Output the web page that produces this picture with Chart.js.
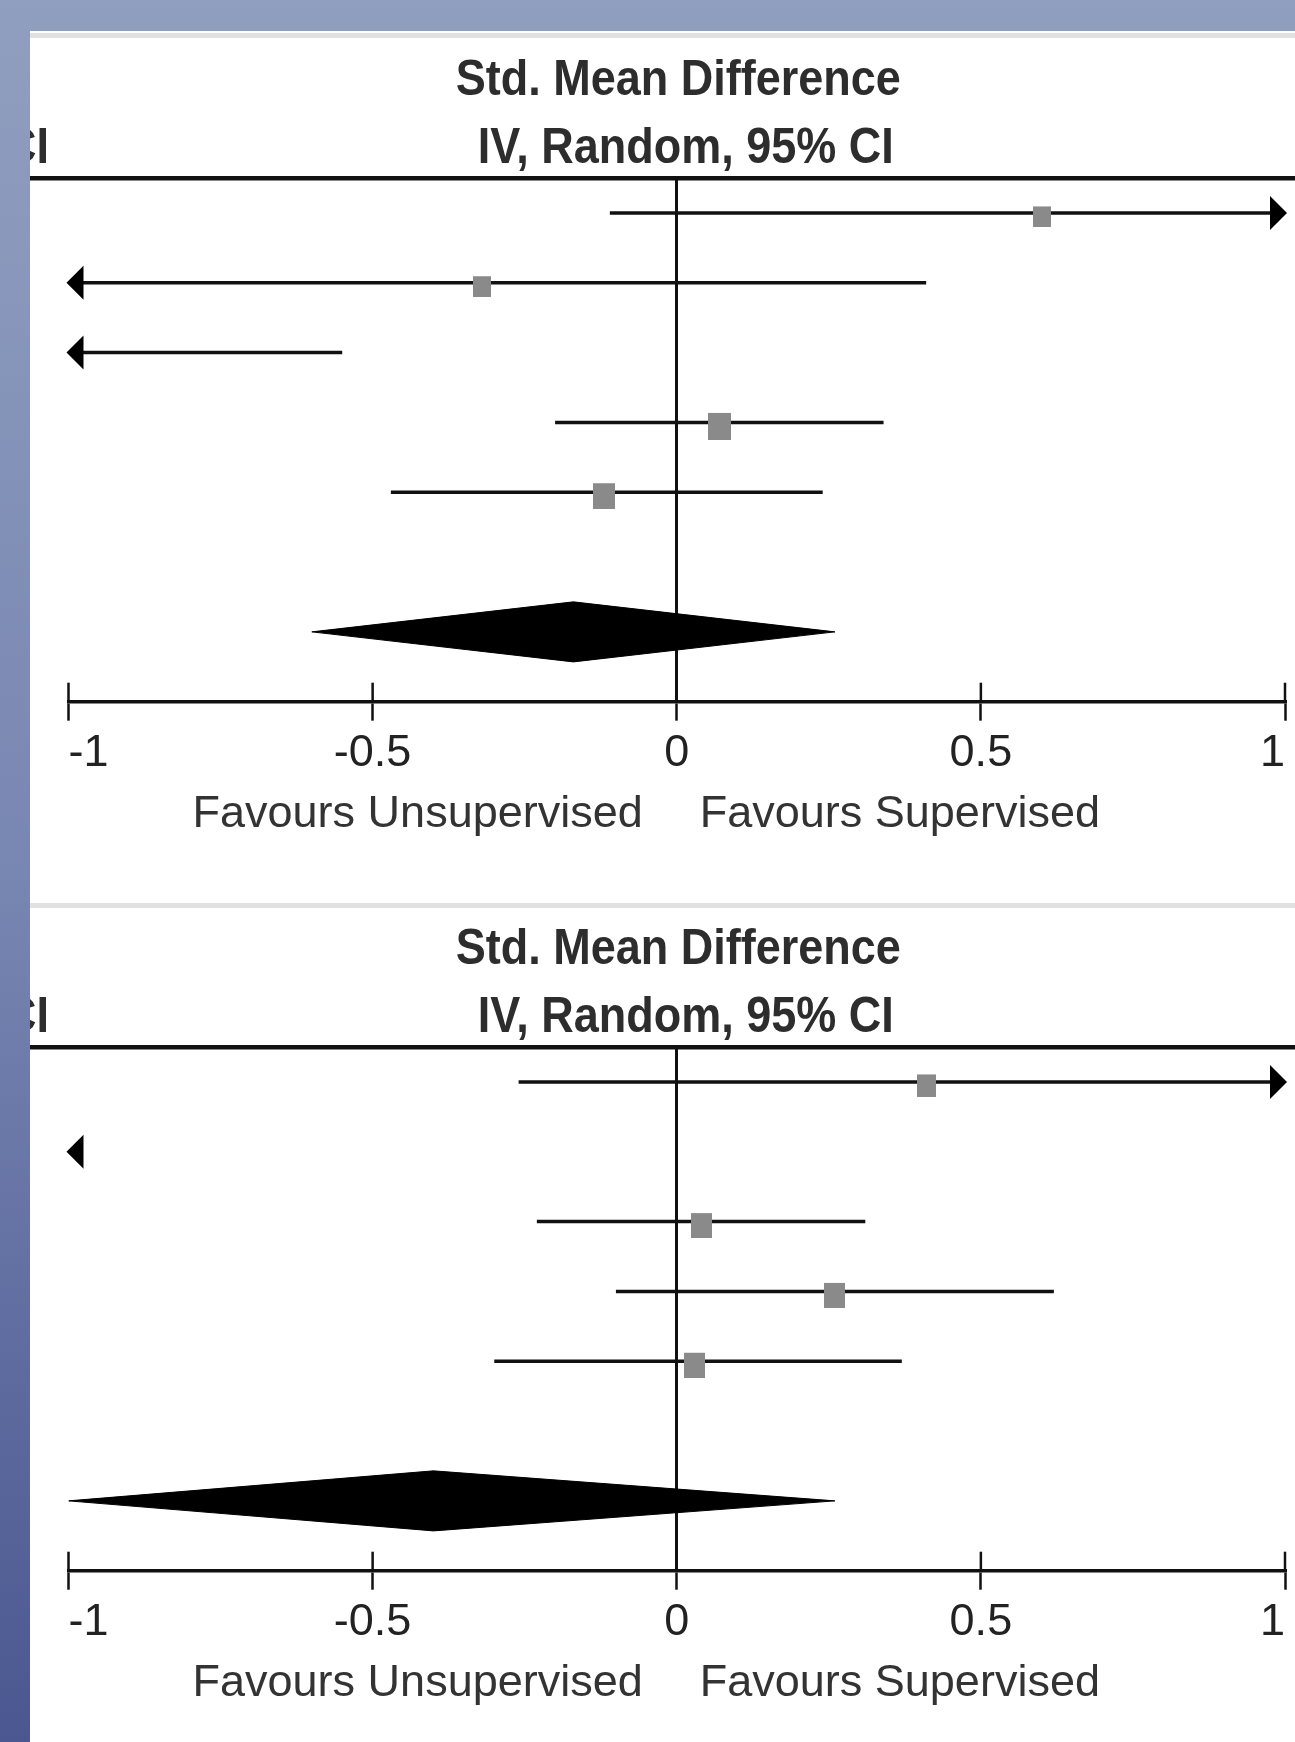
<!DOCTYPE html>
<html>
<head>
<meta charset="utf-8">
<script src="https://cdn.jsdelivr.net/npm/chart.js@4.4.1/dist/chart.umd.min.js"></script>
<style>
  html, body { margin: 0; padding: 0; width: 1295px; height: 1742px; overflow: hidden; }
  body {
    position: relative;
    background: linear-gradient(to bottom, #909fbf 0%, #7886b2 50%, #4b5790 100%);
  }
  .sheet { position: absolute; left: 30px; top: 31px; width: 1265px; height: 1711px; background: #fff; }
  .rule { position: absolute; left: 30px; width: 1265px; height: 5px; background: #e1e1e1; }
  .panel { position: absolute; left: 30px; width: 1265px; height: 865px; }
  .panel canvas { display: block; }
</style>
</head>
<body>
<div class="sheet"></div>
<div class="rule" style="top:33px"></div>
<div class="rule" style="top:903px"></div>
<div class="panel" style="top:38px"><canvas id="plotA" width="1265" height="865"></canvas></div>
<div class="panel" style="top:907px"><canvas id="plotB" width="1265" height="865"></canvas></div>

<script>
// rows of the forest plot (1 = first study)
const rows = [1, 2, 3, 4, 5];
const pooledRow = 7;
const tickValues = [-1, -0.5, 0, 0.5, 1];

// top panel: std. mean difference, 95% CI and weight (%) per study
const smdA    = [0.60, -0.32, -1.30, 0.07, -0.12];
const lowerA  = [-0.11, -1.05, -2.05, -0.20, -0.47];
const upperA  = [1.31, 0.41, -0.55, 0.34, 0.24];
const weightA = [15.6, 15.6, 18.9, 26.1, 23.8];
const pooledA = [-0.17, -0.60, 0.26];   // estimate, lower, upper

// bottom panel
const smdB    = [0.41, -1.50, 0.04, 0.26, 0.03];
const lowerB  = [-0.26, -2.00, -0.23, -0.10, -0.30];
const upperB  = [1.08, -1.03, 0.31, 0.62, 0.37];
const weightB = [18.2, 15.1, 22.2, 22.2, 22.2];
const pooledB = [-0.40, -1.00, 0.26];

const FONT = '"Liberation Sans", Arial, Helvetica, sans-serif';
const INK = '#111';
const clamp = v => Math.max(-1, Math.min(1, v));

// grey study box, a little taller than wide and sitting slightly low, like the original
function boxSprite(w) {
  const side = 4.5 * Math.sqrt(w);
  const tall = side * 1.18;
  const c = document.createElement('canvas');
  c.width = Math.round(side);
  c.height = Math.round(tall + 8);
  const g = c.getContext('2d');
  g.fillStyle = '#8a8a8a';
  g.fillRect(0, 8, c.width, Math.round(tall));
  return c;
}


function makeForest(canvasId, smd, lower, upper, weight, pooled) {
  const datasets = [];

  // study boxes (first dataset is drawn on top)
  datasets.push({
    data: rows.map((r, i) => ({ x: smd[i], y: r })),
    pointStyle: weight.map(boxSprite),
    pointRadius: 10,
    borderWidth: 0
  });

  // confidence interval lines
  rows.forEach((r, i) => {
    datasets.push({
      data: [{ x: clamp(lower[i]), y: r }, { x: clamp(upper[i]), y: r }],
      showLine: true,
      borderColor: INK,
      borderWidth: 3.5,
      pointRadius: 0
    });
  });

  // pooled diamond
  const h = 0.43;
  datasets.push({
    data: [
      { x: pooled[1], y: pooledRow },
      { x: pooled[0], y: pooledRow - h },
      { x: pooled[2], y: pooledRow },
      { x: pooled[0], y: pooledRow + h },
      { x: pooled[1], y: pooledRow }
    ],
    showLine: true,
    borderColor: '#000',
    backgroundColor: '#000',
    borderWidth: 1,
    fill: 'shape',
    pointRadius: 0
  });

  const decor = {
    id: 'forestDecor',
    afterDraw(chart) {
      const { ctx, chartArea, scales: { x, y } } = chart;
      const x0 = x.getPixelForValue(0);
      ctx.save();

      // heavy header rule
      ctx.fillStyle = INK;
      ctx.fillRect(0, chartArea.top - 2, chart.width, 4.5);

      // upper half of the cross ticks
      ctx.strokeStyle = INK;
      ctx.lineWidth = 2.5;
      x.ticks.forEach(t => {
        const px = x.getPixelForValue(t.value);
        ctx.beginPath();
        ctx.moveTo(px, chartArea.bottom - 19);
        ctx.lineTo(px, chartArea.bottom);
        ctx.stroke();
      });

      // arrows for intervals running off the scale
      ctx.fillStyle = '#000';
      const arrow = (px, py, dir) => {
        ctx.beginPath();
        ctx.moveTo(px + dir * 2, py);
        ctx.lineTo(px - dir * 15, py - 17);
        ctx.lineTo(px - dir * 15, py + 17);
        ctx.closePath();
        ctx.fill();
      };
      rows.forEach((r, i) => {
        const py = y.getPixelForValue(r);
        if (lower[i] < -1) arrow(x.getPixelForValue(-1), py, -1);
        if (upper[i] > 1) arrow(x.getPixelForValue(1), py, 1);
      });

      // header texts
      ctx.fillStyle = '#2d2d2d';
      ctx.font = 'bold 45px ' + FONT;
      const stretched = (txt, px, py, align) => {
        ctx.save();
        ctx.translate(px, py);
        ctx.scale(1, 1.1);
        ctx.textAlign = align;
        ctx.textBaseline = 'alphabetic';
        ctx.fillText(txt, 0, 0);
        ctx.restore();
      };
      stretched('Std. Mean Difference', x0 + 1.5, chartArea.top - 83, 'center');
      stretched('IV, Random, 95% CI', x0 + 9, chartArea.top - 15, 'center');
      stretched('CI', 19, chartArea.top - 15, 'right');

      // direction labels
      ctx.fillStyle = '#333';
      ctx.font = '45px ' + FONT;
      ctx.textBaseline = 'alphabetic';
      ctx.textAlign = 'right';
      ctx.fillText('Favours Unsupervised', x0 - 34, chartArea.bottom + 125);
      ctx.textAlign = 'left';
      ctx.fillText('Favours Supervised', x0 + 23, chartArea.bottom + 125);

      ctx.restore();
    }
  };

  return new Chart(document.getElementById(canvasId), {
    type: 'scatter',
    data: { datasets: datasets },
    options: {
      responsive: false,
      animation: false,
      devicePixelRatio: 1,
      events: [],
      layout: { padding: { top: 140, left: 38.5, right: -3, bottom: 0 } },
      plugins: {
        legend: { display: false },
        tooltip: { enabled: false }
      },
      scales: {
        x: {
          type: 'linear',
          min: -1,
          max: 1,
          afterBuildTicks: s => { s.ticks = tickValues.map(v => ({ value: v })); },
          afterFit: s => {
            s.height = 201.3;
            s.paddingLeft = 0;
            s.paddingRight = 0;
          },
          border: { display: true, color: INK, width: 3.5 },
          grid: {
            drawOnChartArea: true,
            color: c => (c.tick && c.tick.value === 0 ? INK : 'rgba(0,0,0,0)'),
            lineWidth: 3,
            drawTicks: true,
            tickLength: 19,
            tickColor: INK,
            tickWidth: 2.5
          },
          ticks: {
            align: 'inner',
            padding: 6,
            color: '#222',
            autoSkip: false,
            maxRotation: 0,
            font: { family: FONT, size: 45 },
            callback: v => String(v)
          }
        },
        y: {
          type: 'linear',
          min: 0.5,
          max: 8,
          reverse: true,
          display: false
        }
      }
    },
    plugins: [decor]
  });
}

makeForest('plotA', smdA, lowerA, upperA, weightA, pooledA);
makeForest('plotB', smdB, lowerB, upperB, weightB, pooledB);
</script>
</body>
</html>
